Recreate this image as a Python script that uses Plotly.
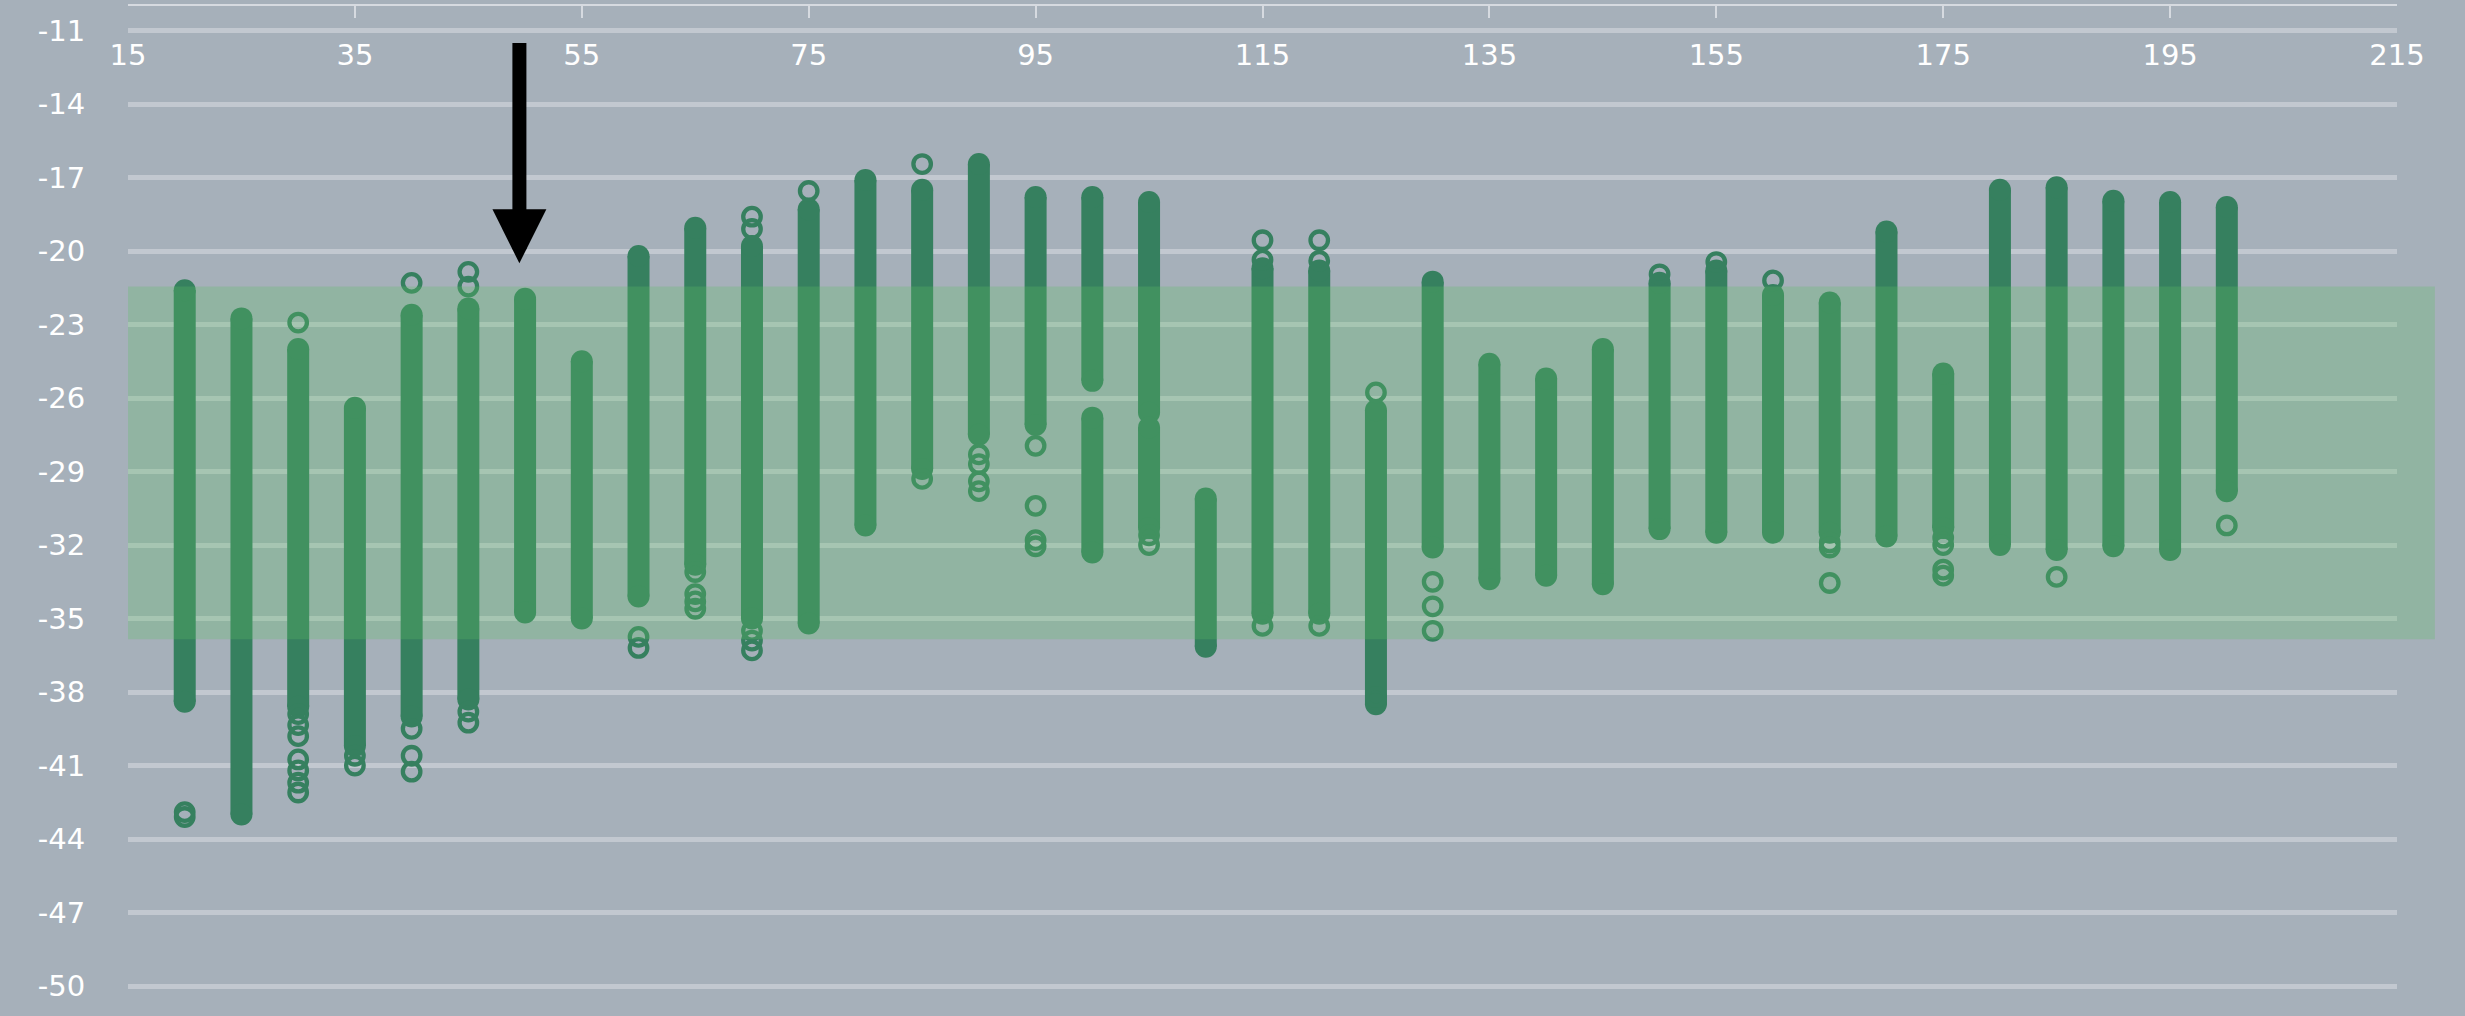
import plotly.graph_objects as go

# ---------------- data ----------------
x_ticks = [15, 35, 55, 75, 95, 115, 135, 155, 175, 195, 215]
y_ticks = [-11, -14, -17, -20, -23, -26, -29, -32, -35, -38, -41, -44, -47, -50]

# dense runs of points (centre of first and last point of each run)
seg_x = [20, 25, 30, 35, 40, 45, 50, 55, 60, 65, 70, 75, 80, 85, 90, 95,
         100, 100, 105, 105, 110, 115, 120, 125, 130, 135, 140, 145,
         150, 155, 160, 165, 170, 175, 180, 185, 190, 195, 200]
seg_top = [-21.6, -22.75, -24.0, -26.4, -22.6, -22.35, -21.95, -24.5, -20.2, -19.05, -19.8, -18.3,
           -17.1, -17.5, -16.45, -17.8, -17.8, -26.8, -18.0, -27.2, -30.1, -20.7, -20.8, -26.5,
           -21.25, -24.6, -25.2, -24.0, -21.3, -20.8, -21.8, -22.1, -19.2, -25.0, -17.5, -17.4,
           -17.95, -18.0, -18.2]
seg_bottom = [-38.4, -43.0, -38.6, -40.2, -39.0, -38.3, -34.75, -35.0, -34.1, -32.8, -35.0, -35.2,
              -31.2, -28.9, -27.5, -27.1, -25.3, -32.3, -26.6, -31.3, -36.15, -34.8, -34.8, -38.5,
              -32.1, -33.4, -33.25, -33.6, -31.35, -31.5, -31.5, -31.5, -31.65, -31.3, -32.0, -32.2,
              -32.05, -32.2, -29.8]

# isolated points
out_x = [20, 20,
         30, 30, 30, 30, 30, 30, 30, 30,
         35, 35,
         40, 40, 40, 40,
         45, 45, 45, 45,
         60, 60,
         65, 65, 65, 65,
         70, 70, 70, 70, 70,
         75,
         85, 85,
         90, 90, 90, 90,
         95, 95, 95, 95,
         105, 105,
         115, 115, 115,
         120, 120, 120,
         125, 125,
         130, 130, 130,
         150, 155, 160,
         165, 165, 165,
         175, 175, 175, 175,
         185, 200]
out_y = [-42.9, -43.1,
         -22.92, -38.9, -39.35, -39.8, -40.75, -41.2, -41.7, -42.1,
         -40.6, -41.0,
         -21.3, -39.5, -40.6, -41.25,
         -20.85, -21.45, -38.8, -39.25,
         -35.75, -36.2,
         -33.1, -34.0, -34.3, -34.6,
         -18.6, -19.1, -35.5, -35.9, -36.3,
         -17.55,
         -16.45, -29.3,
         -28.3, -28.7, -29.4, -29.8,
         -27.95, -30.4, -31.8, -32.05,
         -31.6, -32.0,
         -19.56, -20.36, -35.3,
         -19.56, -20.4, -35.3,
         -25.77, -38.2,
         -33.5, -34.5, -35.5,
         -20.95, -20.45, -21.2,
         -31.9, -32.1, -33.55,
         -31.7, -32.0, -33.0, -33.25,
         -33.3, -31.2]

band_low, band_high = -35.85, -21.45
arrow_x, arrow_tip, arrow_tail = 49.5, -20.5, -11.45

# ---------------- styles ----------------
BG = "#a6b0ba"
MARK = "#36805f"
FONT = dict(family="DejaVu Sans", size=29, color="#ffffff")

# build line segments (with gaps between runs)
lx, ly = [], []
for sx, t, b in zip(seg_x, seg_top, seg_bottom):
    lx += [sx, sx, None]
    ly += [t, b, None]

fig = go.Figure()
fig.add_trace(go.Scatter(
    x=lx, y=ly, mode="lines+markers",
    line=dict(color=MARK, width=22),
    marker=dict(symbol="circle", size=22, color=MARK, line=dict(width=0)),
    hoverinfo="skip", showlegend=False,
))
fig.add_trace(go.Scatter(
    x=out_x, y=out_y, mode="markers", xaxis="x2",
    marker=dict(symbol="circle-open", size=17.5, color=MARK, line=dict(width=4.3, color=MARK)),
    hoverinfo="skip", showlegend=False,
))

fig.add_shape(type="rect", xref="paper", yref="y", x0=0, x1=1.0167,
              y0=band_low, y1=band_high, layer="above",
              fillcolor="rgba(92,190,100,0.28)", line=dict(width=0))

fig.add_annotation(x=arrow_x, y=arrow_tip, ax=arrow_x, ay=arrow_tail,
                   xref="x", yref="y", axref="x", ayref="y",
                   text="", showarrow=True, arrowhead=2, arrowsize=0.77,
                   arrowwidth=14, arrowcolor="#000000")

fig.update_layout(
    width=2465, height=1016,
    margin=dict(l=128, r=68, t=6, b=27, autoexpand=False),
    paper_bgcolor=BG, plot_bgcolor=BG,
    showlegend=False,
    xaxis=dict(side="top", range=[15, 215], tickvals=x_ticks, showticklabels=False,
               showgrid=False, zeroline=False, showline=True, linecolor="#d6dae0", linewidth=2,
               ticks="inside", ticklen=12, tickwidth=2, tickcolor="#d6dae0"),
    xaxis2=dict(overlaying="x", side="bottom", anchor="free", position=0.97,
                range=[15, 215], tickvals=x_ticks, ticktext=[str(v) for v in x_ticks],
                showgrid=False, zeroline=False, showline=False, ticks="", tickfont=FONT),
    yaxis=dict(range=[-50.12, -10], tickvals=y_ticks, ticktext=[str(v) for v in y_ticks],
               showgrid=True, gridcolor="#c2c8d0", gridwidth=5, zeroline=False, showline=False,
               ticks="outside", ticklen=36, tickcolor="rgba(0,0,0,0)", tickfont=FONT),
)

fig.write_html("out.html", config={"displayModeBar": False},
               post_script="document.body.style.margin='0';document.body.style.overflow='hidden';")
